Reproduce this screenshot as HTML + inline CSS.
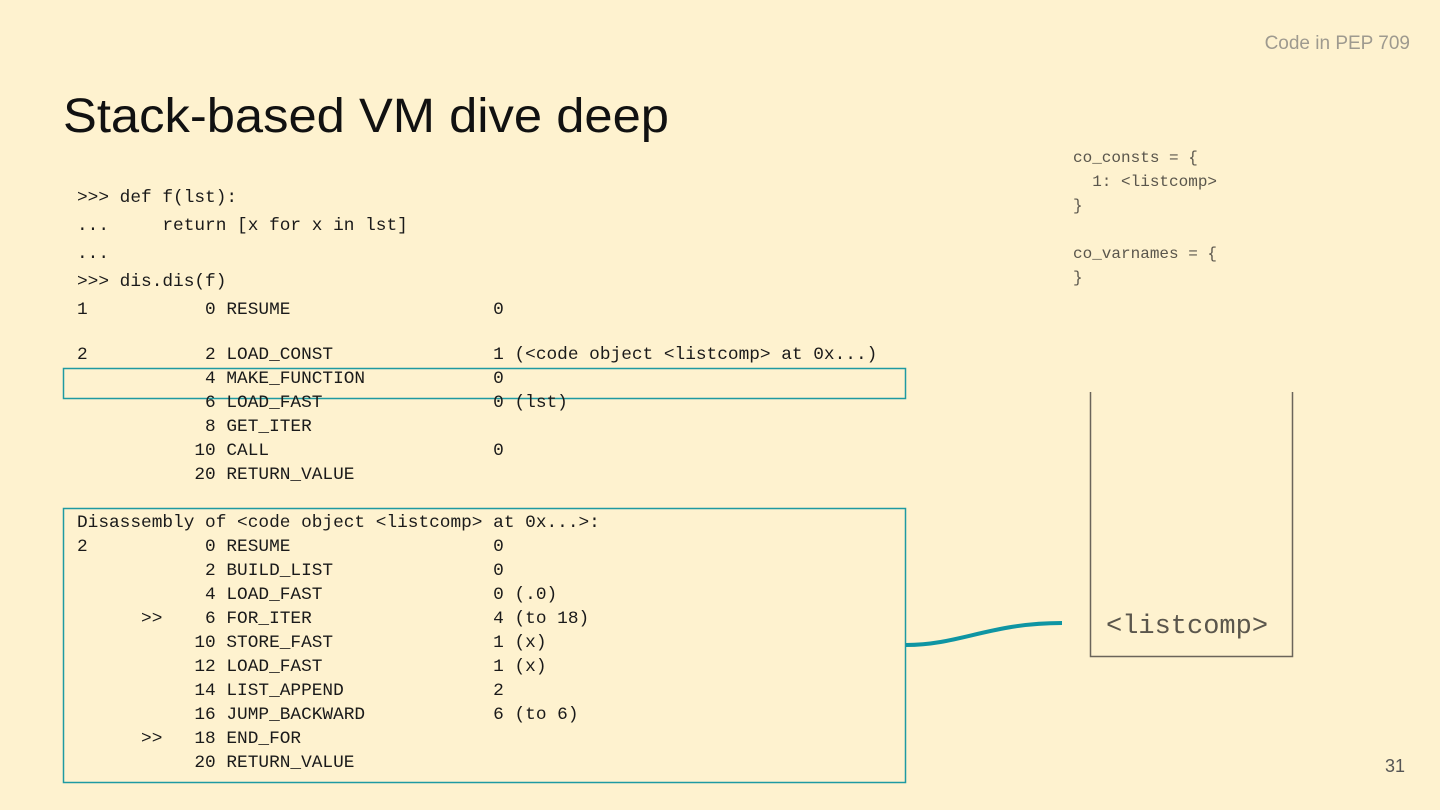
<!DOCTYPE html>
<html><head><meta charset="utf-8"><style>
html,body{margin:0;padding:0;background:#FEF2CF;}
body{position:relative;width:1440px;height:810px;overflow:hidden}
svg{position:absolute;left:0;top:0}
.m{position:absolute;font-family:"Liberation Mono",monospace;font-size:17.8px;color:#1a1a1a;white-space:pre;line-height:24px;margin:0}
.r{position:absolute;font-family:"Liberation Mono",monospace;font-size:16px;color:#5a564c;white-space:pre;line-height:24px;margin:0}
</style></head><body>
<svg width="1440" height="810" viewBox="0 0 1440 810" xmlns="http://www.w3.org/2000/svg">
<rect width="1440" height="810" fill="#FEF2CF"/>
<text x="1410" y="49" text-anchor="end" font-family="Liberation Sans,sans-serif" font-size="19" fill="#9e9a8f">Code in PEP 709</text>
<text x="63" y="132" font-family="Liberation Sans,sans-serif" font-size="48" fill="#111" textLength="606" lengthAdjust="spacingAndGlyphs">Stack-based VM dive deep</text>
<rect x="63.5" y="368.5" width="842" height="30" fill="none" stroke="#1e9aa2" stroke-width="1.5"/>
<rect x="63.5" y="508.5" width="842" height="274" fill="none" stroke="#1e9aa2" stroke-width="1.5"/>
<path d="M1090.5 392 V656.5 H1292.5 V392" fill="none" stroke="#6b655a" stroke-width="1.5"/>
<text x="1106" y="633" font-family="Liberation Mono,monospace" font-size="27" fill="#5a564c">&lt;listcomp&gt;</text>
<path d="M906 645 C960 645 990 623 1062 623" fill="none" stroke="#0f95a3" stroke-width="4"/>
<text x="1405" y="772" text-anchor="end" font-family="Liberation Sans,sans-serif" font-size="18" fill="#555">31</text>
</svg>
<pre class="m" style="left:77px;top:184px;line-height:28px">&gt;&gt;&gt; def f(lst):
...     return [x for x in lst]
...
&gt;&gt;&gt; dis.dis(f)
1           0 RESUME                   0</pre>
<pre class="m" style="left:77px;top:343px">2           2 LOAD_CONST               1 (&lt;code object &lt;listcomp&gt; at 0x...)
            4 MAKE_FUNCTION            0
            6 LOAD_FAST                0 (lst)
            8 GET_ITER
           10 CALL                     0
           20 RETURN_VALUE</pre>
<pre class="m" style="left:77px;top:511px">Disassembly of &lt;code object &lt;listcomp&gt; at 0x...&gt;:
2           0 RESUME                   0
            2 BUILD_LIST               0
            4 LOAD_FAST                0 (.0)
      &gt;&gt;    6 FOR_ITER                 4 (to 18)
           10 STORE_FAST               1 (x)
           12 LOAD_FAST                1 (x)
           14 LIST_APPEND              2
           16 JUMP_BACKWARD            6 (to 6)
      &gt;&gt;   18 END_FOR
           20 RETURN_VALUE</pre>
<pre class="r" style="left:1073px;top:146px">co_consts = {
  1: &lt;listcomp&gt;
}

co_varnames = {
}</pre>
</body></html>
